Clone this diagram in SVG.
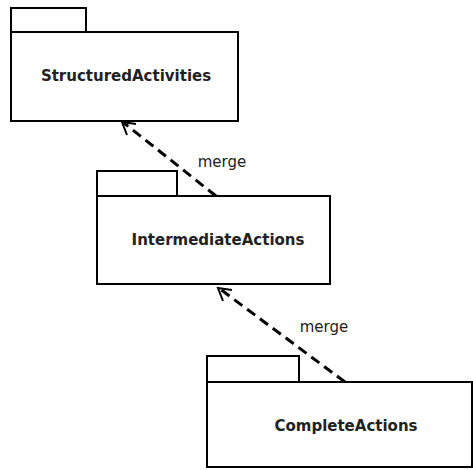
<svg xmlns="http://www.w3.org/2000/svg" width="473" height="470" viewBox="0 0 473 470">
<style>
.pkg{fill:#fff;stroke:#000;stroke-width:2}
.name{font-family:"DejaVu Sans","Liberation Sans",sans-serif;font-size:15px;font-weight:bold;fill:#222;text-anchor:middle}
.lbl{font-family:"DejaVu Sans","Liberation Sans",sans-serif;font-size:15px;fill:#222;text-anchor:middle}
.dep{fill:none;stroke:#000;stroke-width:3;stroke-dasharray:10,6}
.head{fill:none;stroke:#000;stroke-width:2}
</style>
<rect width="473" height="470" fill="#fff"/>
<g id="StructuredActivities">
<rect class="pkg" x="11" y="8" width="75" height="24"/>
<rect class="pkg" x="11" y="32" width="227" height="89"/>
<text class="name" x="126" y="81">StructuredActivities</text>
</g>
<g id="IntermediateActions">
<rect class="pkg" x="97" y="171" width="80" height="25"/>
<rect class="pkg" x="97" y="196" width="233" height="88"/>
<text class="name" x="218" y="245">IntermediateActions</text>
</g>
<g id="CompleteActions">
<rect class="pkg" x="207" y="356" width="92" height="26"/>
<rect class="pkg" x="207" y="382" width="265" height="85"/>
<text class="name" x="346" y="431">CompleteActions</text>
</g>
<g id="connectors">
<line class="dep" x1="216" y1="196" x2="124" y2="123"/>
<polyline class="head" points="136,124 122,122 127,135"/>
<text class="lbl" x="222" y="167">merge</text>
<line class="dep" x1="345" y1="382" x2="220" y2="289"/>
<polyline class="head" points="232,290 218,288 223,301"/>
<text class="lbl" x="324" y="332">merge</text>
</g>
</svg>
